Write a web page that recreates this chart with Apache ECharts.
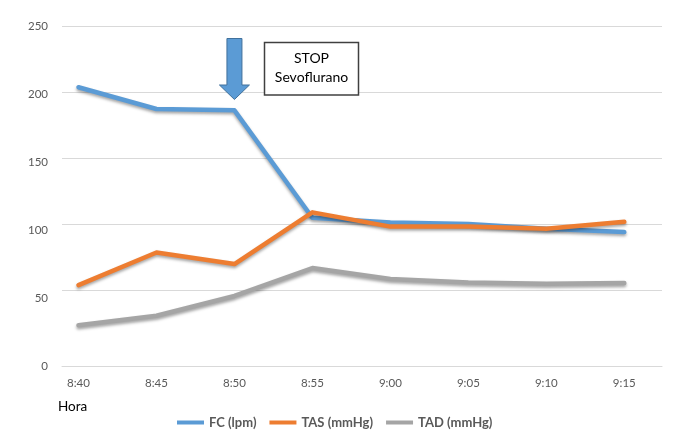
<!DOCTYPE html>
<html>
<head>
<meta charset="utf-8">
<script src="https://cdn.jsdelivr.net/npm/echarts@6/dist/echarts.min.js"></script>
<style>
html,body{margin:0;padding:0;background:#fff;}
#chart{width:674px;height:441px;}
</style>
</head>
<body>
<div id="chart"></div>
<script>
const categories = ['8:40', '8:45', '8:50', '8:55', '9:00', '9:05', '9:10', '9:15'];
const fcValues  = [205.5, 189.5, 188.5, 109.5, 106, 105, 101.5, 99];
const tasValues = [60, 84, 75.5, 113.5, 103, 103, 101.5, 106.5];
const tadValues = [30.5, 37.5, 52, 72.5, 64.5, 62, 61, 61.5];
const yTicks = [0, 50, 100, 150, 200, 250];
const seriesNames = ['FC (lpm)', 'TAS (mmHg)', 'TAD (mmHg)'];
const colors = ['#5b9bd5', '#ed7d31', '#a5a5a5'];
const xTitle = 'Hora';
const noteLines = ['STOP', 'Sevoflurano'];
const stopCategory = '8:50';

const FONT = 'Lato, "Open Sans", sans-serif';
const chart = echarts.init(document.getElementById('chart'), null, {renderer: 'canvas'});

function lineSeries(name, data, color) {
  return {
    name: name, type: 'line', data: data, xAxisIndex: 2, yAxisIndex: 2,
    symbol: 'none', showSymbol: false, smooth: false,
    lineStyle: {color: color, width: 4.5, cap: 'round', join: 'round',
      shadowColor: 'rgba(0,0,0,0.35)', shadowBlur: 3, shadowOffsetY: 2},
    itemStyle: {color: color},
    emphasis: {disabled: true}
  };
}

const option = {
  animation: false,
  backgroundColor: '#fff',
  textStyle: {fontFamily: FONT},
  grid: [
    {left: 62, right: 12, top: 26.7, bottom: 74.3},
    {left: 62, right: 12, top: 26.7, bottom: 151},
    {left: 39.5, right: 10.7, top: 26.7, bottom: 74.3}
  ],
  xAxis: [
    {gridIndex: 0, type: 'category', data: categories, axisLabel: {show: false}, axisTick: {show: false},
     axisLine: {show: true, lineStyle: {color: '#d9d9d9', width: 1}}, splitLine: {show: false}},
    {gridIndex: 1, type: 'category', data: categories, show: false},
    {gridIndex: 2, type: 'category', data: categories, boundaryGap: true,
     axisLine: {show: false}, axisTick: {show: false}, splitLine: {show: false},
     axisLabel: {color: '#595959', fontSize: 11.5, margin: 11, fontFamily: FONT}}
  ],
  yAxis: [
    {gridIndex: 0, type: 'value', min: yTicks[0], max: yTicks[yTicks.length - 1], interval: 50,
     axisLine: {show: false}, axisTick: {show: false}, splitLine: {show: false},
     axisLabel: {color: '#595959', fontSize: 11.5, margin: 14, fontFamily: FONT}},
    {gridIndex: 1, type: 'value', min: yTicks[1], max: yTicks[yTicks.length - 1], interval: 50,
     axisLine: {show: false}, axisTick: {show: false}, axisLabel: {show: false},
     splitLine: {show: true, lineStyle: {color: '#d9d9d9', width: 1}}},
    {gridIndex: 2, type: 'value', min: yTicks[0], max: yTicks[yTicks.length - 1], show: false}
  ],
  legend: {
    data: seriesNames, left: 172, top: 411, icon: 'rect', itemWidth: 27, itemHeight: 4, itemGap: 13,
    textStyle: {color: '#595959', fontSize: 13, fontWeight: 'bold', fontFamily: FONT}
  },
  series: [
    lineSeries(seriesNames[0], fcValues, colors[0]),
    lineSeries(seriesNames[1], tasValues, colors[1]),
    lineSeries(seriesNames[2], tadValues, colors[2])
  ]
};
chart.setOption(option);

const ax = chart.convertToPixel({xAxisIndex: 2}, stopCategory);
chart.setOption({
  graphic: [
    {type: 'text', left: 58, top: 400, style: {text: xTitle, fill: '#000', fontSize: 13.5, fontFamily: FONT}},
    {type: 'polygon', silent: true,
     shape: {points: [[ax - 7.5, 38.5], [ax + 7.5, 38.5], [ax + 7.5, 85], [ax + 15, 85], [ax, 99.5], [ax - 15, 85], [ax - 7.5, 85]]},
     style: {fill: '#5b9bd5', stroke: '#41719c', lineWidth: 1}},
    {type: 'rect', silent: true, shape: {x: 264.5, y: 42.5, width: 94, height: 52.5},
     style: {fill: '#fff', stroke: '#404040', lineWidth: 1.5}},
    {type: 'text', silent: true, x: 311.5, y: 58.5,
     style: {text: noteLines[0], fill: '#000', fontSize: 14, fontFamily: FONT, align: 'center', verticalAlign: 'middle'}},
    {type: 'text', silent: true, x: 311.5, y: 77,
     style: {text: noteLines[1], fill: '#000', fontSize: 14, fontFamily: FONT, align: 'center', verticalAlign: 'middle'}}
  ]
});
</script>
</body>
</html>
